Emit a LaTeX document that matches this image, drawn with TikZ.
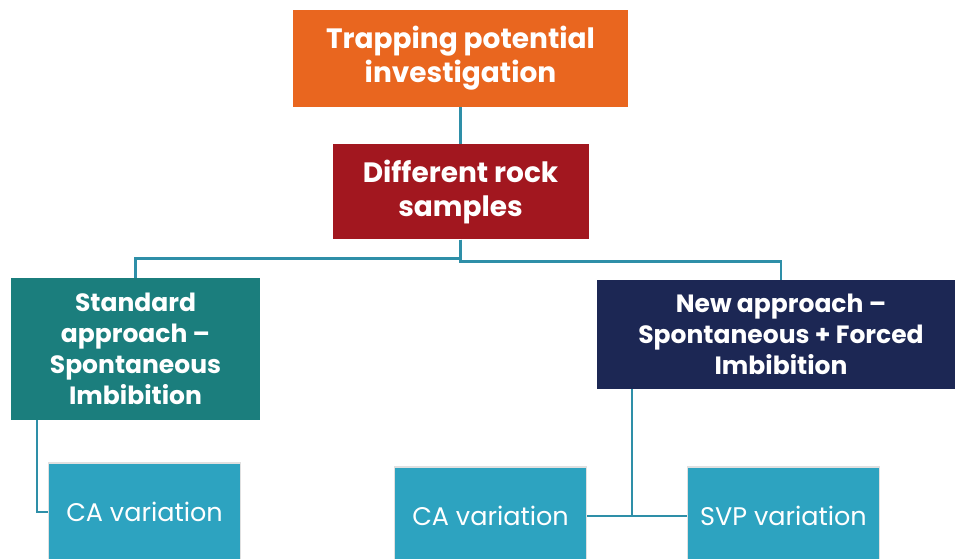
\documentclass[tikz,border=0pt]{standalone}
\usepackage{fontspec}
\setmainfont{Poppins}
\usepackage{tikz}
\usetikzlibrary{positioning}

\definecolor{topOrange}{RGB}{233,102,31}
\definecolor{rockRed}{RGB}{162,23,31}
\definecolor{stdTeal}{RGB}{27,126,125}
\definecolor{newNavy}{RGB}{28,39,84}
\definecolor{varBlue}{RGB}{45,163,192}
\definecolor{linkBlue}{RGB}{46,143,168}

\begin{document}
\begin{tikzpicture}[
    x=1pt, y=-1pt,
    node distance=37pt,
    every node/.style={text=white, align=center, inner sep=0pt},
    headbox/.style={
        rectangle,
        font=\fontsize{28}{34}\selectfont\bfseries
    },
    branchbox/.style={
        rectangle,
        font=\fontsize{25}{31}\selectfont\bfseries
    },
    varbox/.style={
        rectangle,
        fill=varBlue,
        draw=black!12,
        line width=1.2pt,
        minimum width=192pt,
        minimum height=98pt,
        font=\fontsize{25.5}{30}\selectfont
    },
    link/.style={draw=linkBlue, line width=2.6pt}
]

\path[use as bounding box, clip] (0,0) rectangle (955,558);

\node[headbox, fill=topOrange, minimum width=335pt, minimum height=97pt] (trap) at (460.5,58.5) {Trapping potential\\ investigation};
\node[headbox, fill=rockRed, minimum width=256pt, minimum height=95pt, below=of trap] (rock) {Different rock\\ samples};

\node[branchbox, fill=stdTeal, minimum width=249pt, minimum height=142pt] (std) at (135.5,349) {Standard\\ approach --\\ Spontaneous\\ Imbibition};
\node[branchbox, fill=newNavy, minimum width=368pt, minimum height=109pt] (new) at (781,334.5) {New approach --\\ Spontaneous + Forced\\ Imbibition};

\node[varbox] (caleft) at (144.5,512) {CA variation};
\node[varbox] (camid) at (490.5,516) {CA variation};
\node[varbox] (svp) at (783.5,516) {SVP variation};

% links between levels
\draw[link] (trap) -- (rock);
\draw[link] (rock.south) -- ++(0,19) -| (std.north);
\draw[link] (rock.south) -- ++(0,22) -| (new.north);
\draw[link] ([xshift=26pt]std.south west) |- (caleft.west);
\draw[link] (camid.east) -- (svp.west);
\draw[link] ([xshift=35pt]new.south west) -- ([xshift=35pt]new.south west |- svp.west);

\end{tikzpicture}
\end{document}
